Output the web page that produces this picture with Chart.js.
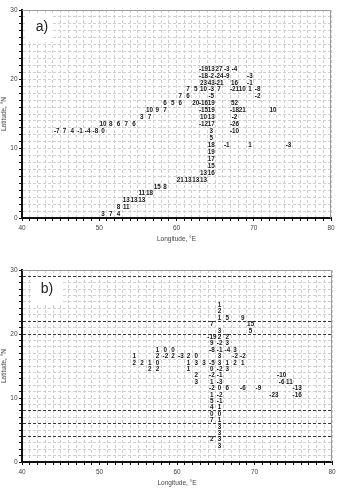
<!DOCTYPE html>
<html><head><meta charset="utf-8">
<script src="https://cdn.jsdelivr.net/npm/chart.js@4.4.1/dist/chart.umd.min.js"></script>
<style>
html,body{margin:0;padding:0;background:#fff;}
canvas{display:block;position:absolute;left:0;}
#ca{top:0}
#cb{top:245px}
</style></head><body>
<canvas id="ca" width="340" height="245"></canvas>
<canvas id="cb" width="340" height="246"></canvas>
<script>
// Grid cells are given by their lower-left corner (lon, lat in degrees); value is drawn at cell centre.
// Panel a)
const aRowLat = [21, 20, 19, 18, 17, 16, 15, 14, 13, 12, 11, 10, 9, 8, 7, 6, 5, 4, 3, 2, 1, 0];
const aRowLon = [
  [63,64,65,66,67],
  [63,64,65,66,69],
  [63,64,65,67,69],
  [61,62,63,64,65,67,68,69,70],
  [60,61,64,70],
  [58,59,60,62,63,64,67],
  [56,57,58,63,64,67,68,72],
  [55,56,63,64,67],
  [50,51,52,53,54,63,64,67],
  [44,45,46,47,48,49,50,64,67],
  [64],
  [64,66,69,74],
  [64],
  [64],
  [64],
  [63,64],
  [60,61,62,63],
  [57,58],
  [55,56],
  [53,54,55],
  [52,53],
  [50,51,52]
];
const aRowVal = [
  [-19,13,27,-3,-4],
  [-18,-2,-24,-9,-3],
  [23,43,-21,16,-1],
  [7,5,10,-3,7,-21,10,1,-8],
  [7,6,-5,-2],
  [6,5,6,20,-16,19,52],
  [10,9,7,-15,19,-18,21,10],
  [3,7,10,13,-2],
  [10,8,6,7,6,-12,17,-26],
  [-7,7,4,-1,-4,-8,0,3,-10],
  [5],
  [18,-1,1,-3],
  [19],
  [17],
  [15],
  [13,16],
  [21,13,13,13],
  [15,8],
  [11,18],
  [13,13,13],
  [8,11],
  [3,7,4]
];
// Panel b)
const bRowLat = [24, 23, 22, 21, 20, 19, 18, 17, 16, 15, 14, 13, 12, 11, 10, 9, 8, 7, 6, 5, 4, 3, 2];
const bRowLon = [
  [65],
  [65],
  [65,66,68],
  [64,69],
  [65,69],
  [64,65,66],
  [64,65,66],
  [57,58,59,64,65,66,67],
  [54,57,58,59,60,61,62,65,67,68],
  [54,55,56,57,61,62,63,64,65,66,67,68],
  [56,57,61,64,65,66],
  [62,64,65,73],
  [62,64,65,73,74],
  [64,65,66,68,70,75],
  [64,65,72,75],
  [64,65],
  [64,65],
  [64,65],
  [64,65],
  [65],
  [65],
  [64,65],
  [65]
];
const bRowVal = [
  [1],
  [2],
  [1,5,9],
  [7,15],
  [3,5],
  [-19,2,2],
  [9,-2,3],
  [1,0,0,-8,-1,-4,3],
  [1,2,-2,2,-3,2,0,3,-2,-2],
  [2,2,1,0,1,3,3,-5,3,1,2,1],
  [2,2,1,0,-2,3],
  [2,-2,-1,-10],
  [3,1,-3,-6,11],
  [-2,0,6,-6,-9,-13],
  [1,-2,-23,-16],
  [5,-1],
  [4,1],
  [0,0],
  [7,1],
  [3],
  [3],
  [2,3],
  [3]
];
const bDarkLat = [4, 6, 8, 20, 22, 29];
const xTickLabels = [40, 50, 60, 70, 80];
const yTickLabels = [0, 10, 20, 30];

function buildPoints(lats, lons, vals) {
  const pts = [];
  lats.forEach((lat, r) => {
    lons[r].forEach((lon, k) => pts.push({x: lon + 0.5, y: lat + 0.5, v: vals[r][k]}));
  });
  return pts;
}

const FONT = '"Liberation Sans", Arial, sans-serif';

const cellLabels = {
  id: 'cellLabels',
  beforeDatasetsDraw(chart, args, opts) {
    const {ctx, chartArea: ca} = chart;
    ctx.save();
    ctx.strokeStyle = '#9a9a9a';
    ctx.lineWidth = 1;
    ctx.beginPath();
    ctx.moveTo(ca.left, ca.top + 0.5);
    ctx.lineTo(ca.right - 0.5, ca.top + 0.5);
    ctx.lineTo(ca.right - 0.5, ca.bottom);
    ctx.stroke();
    const t = opts.tag;
    ctx.fillStyle = '#fff';
    ctx.fillRect(ca.left + t.bx, ca.top + t.by, t.bw, t.bh);
    ctx.fillStyle = '#222';
    ctx.font = '14px ' + FONT;
    ctx.textAlign = 'center';
    ctx.textBaseline = 'middle';
    ctx.fillText(t.text, ca.left + t.tx, ca.top + t.ty);
    ctx.restore();
  },
  afterDatasetsDraw(chart) {
    const ctx = chart.ctx;
    ctx.save();
    ctx.font = 'bold 6.3px ' + FONT;
    ctx.fillStyle = '#161616';
    ctx.textAlign = 'center';
    ctx.textBaseline = 'middle';
    chart.data.datasets.forEach((ds, di) => {
      const meta = chart.getDatasetMeta(di);
      meta.data.forEach((el, i) => ctx.fillText(String(ds.data[i].v), el.x, el.y));
    });
    ctx.restore();
  }
};

function makeChart(id, points, cfg) {
  const dark = cfg.dark || [];
  const gridColor = c => dark.includes(c.tick && c.tick.value) ? '#3a3a3a' : '#d0d0d0';
  const gridDash = c => dark.includes(c.tick && c.tick.value) ? [3, 2] : [3, 2];
  new Chart(document.getElementById(id), {
    type: 'scatter',
    data: {datasets: [{data: points, pointRadius: 0, pointHoverRadius: 0, showLine: false}]},
    options: {
      responsive: false,
      animation: false,
      devicePixelRatio: 1,
      layout: {padding: {top: cfg.top, right: cfg.right, left: 0, bottom: 0}},
      plugins: {legend: {display: false}, tooltip: {enabled: false}, cellLabels: {tag: cfg.tag}},
      scales: {
        x: {
          type: 'linear', min: 40, max: 80,
          afterFit: s => { s.height = cfg.xh; },
          ticks: {stepSize: 1, autoSkip: false, maxRotation: 0, padding: 3,
            color: '#444', font: {size: 6.5, family: FONT},
            callback: v => xTickLabels.includes(v) ? String(v) : ''},
          grid: {color: '#d0d0d0', lineWidth: 1, tickColor: '#111', tickLength: 3, tickWidth: 1},
          border: {color: '#111', width: 2, dash: [3, 2]},
          title: {display: true, text: 'Longitude, °E', color: '#444',
            font: {size: 6.5, family: FONT}, padding: {top: 0, bottom: cfg.xtp}}
        },
        y: {
          type: 'linear', min: 0, max: 30,
          afterFit: s => { s.width = 22; },
          ticks: {stepSize: 1, autoSkip: false, padding: 1.5,
            color: '#444', font: {size: 6.5, family: FONT},
            callback: v => yTickLabels.includes(v) ? String(v) : ''},
          grid: {color: gridColor, lineWidth: 1, tickColor: '#111', tickLength: 3, tickWidth: 1},
          border: {color: '#111', width: 2, dash: gridDash},
          title: {display: true, text: 'Latitude, °N', color: '#444',
            font: {size: 6.5, family: FONT}, padding: {top: 0.3, bottom: 0}}
        }
      }
    },
    plugins: [cellLabels]
  });
}

makeChart('ca', buildPoints(aRowLat, aRowLon, aRowVal), {
  top: 10, right: 9, xh: 27, xtp: 1.4,
  tag: {text: 'a)', bx: 3, by: 3, bw: 28, bh: 29, tx: 20, ty: 17.5}
});
makeChart('cb', buildPoints(bRowLat, bRowLon, bRowVal), {
  top: 25, right: 8, xh: 29, xtp: 3.4, dark: bDarkLat,
  tag: {text: 'b)', bx: 10, by: 7, bw: 30, bh: 26, tx: 25, ty: 19}
});
</script>
</body></html>
